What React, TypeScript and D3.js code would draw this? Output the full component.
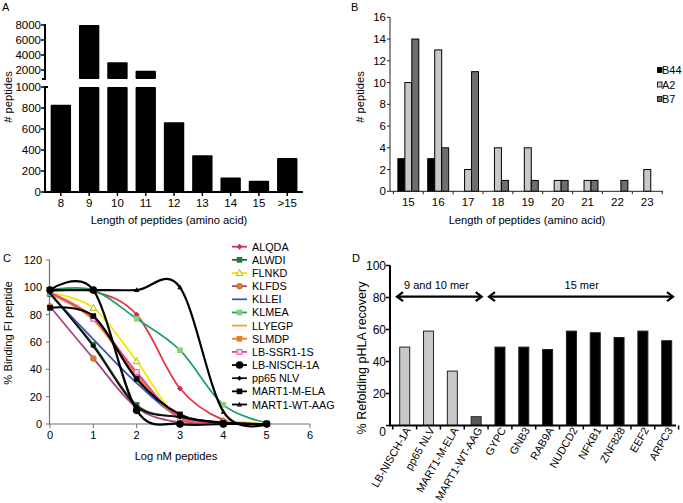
import React from "react";
import * as d3 from "d3";

const FONT = "'Liberation Sans', Arial, Helvetica, sans-serif";

// ---------- Panel A data ----------
const aCats = ["8", "9", "10", "11", "12", "13", "14", "15", ">15"];
const aValues = [830, 8000, 3050, 1900, 665, 350, 137, 108, 325];
const aTopTicks = [2000, 4000, 6000, 8000];
const aBottomTicks = [0, 200, 400, 600, 800, 1000];

// ---------- Panel B data ----------
const bCats = ["15", "16", "17", "18", "19", "20", "21", "22", "23"];
const bSeriesNames = ["B44", "A2", "B7"];
const bB44 = [3, 3, 0, 0, 0, 0, 0, 0, 0];
const bA2 = [10, 13, 2, 4, 4, 1, 1, 0, 2];
const bB7 = [14, 4, 11, 1, 1, 1, 1, 1, 0];
const bTicks = [0, 2, 4, 6, 8, 10, 12, 14, 16];

// ---------- Panel C data ----------
const cX = [0, 1, 2, 3, 4, 5];
const cXTicks = [0, 1, 2, 3, 4, 5, 6];
const cYTicks = [0, 20, 40, 60, 80, 100, 120];
const cALQDA = [97, 97, 80, 26, 3, 0];
const cALWDI = [95, 58, 14, 5, 1, 0];
const cFLNKD = [96, 85, 46, 3, 2, 0];
const cKLFDS = [86, 48, 12, 1, 0, 0];
const cKLLEI = [95, 62, 30, 5, 1, 0];
const cKLMEA = [98, 98, 77, 54, 14, 1];
const cLLYEGP = [95, 76, 35, 4, 1, 0];
const cSLMDP = [96, 78, 36, 5, 1, 0];
const cLBSSR = [96, 77, 38, 4, 1, 0];
const cLBNISCH = [98, 98, 10, 0, 0, 0];
const cPP65 = [96, 57, 13, 5, 1, 0];
const cMARTELA = [85, 79, 33, 7, 1, 0];
const cMARTAAG = [98, 98, 98, 100, 9, 0];

// ---------- Panel D data ----------
const dCats = ["LB-NISCH-1A", "pp65 NLV", "MART1-M-ELA", "MART1-WT-AAG", "GYPC", "GNB3", "RAB9A", "NUDCD2", "NFKB1", "ZNF828", "EEF2", "ARPC3"];
const dValues = [49, 59, 34, 5.5, 49, 49, 47.5, 59, 58, 55, 59, 53];
const dTicks = [0, 20, 40, 60, 80, 100];

type Marker = "diamond" | "square" | "openSquare" | "openTriangle" | "circle" | "bigCircle" | "smallDiamond" | "triangle" | "none";

const cSeries: { name: string; values: number[]; color: string; marker: Marker; markerColor: string }[] = [
  { name: "ALQDA", values: cALQDA, color: "#e8313c", marker: "diamond", markerColor: "#b8306a" },
  { name: "ALWDI", values: cALWDI, color: "#35602c", marker: "square", markerColor: "#1f7a3a" },
  { name: "FLNKD", values: cFLNKD, color: "#f3e600", marker: "openTriangle", markerColor: "#b8b020" },
  { name: "KLFDS", values: cKLFDS, color: "#a9457f", marker: "circle", markerColor: "#e07a30" },
  { name: "KLLEI", values: cKLLEI, color: "#3a55b8", marker: "none", markerColor: "#3a55b8" },
  { name: "KLMEA", values: cKLMEA, color: "#1fa070", marker: "square", markerColor: "#86d072" },
  { name: "LLYEGP", values: cLLYEGP, color: "#f5a030", marker: "none", markerColor: "#f5a030" },
  { name: "SLMDP", values: cSLMDP, color: "#f07a20", marker: "square", markerColor: "#f07a20" },
  { name: "LB-SSR1-1S", values: cLBSSR, color: "#e8409a", marker: "openSquare", markerColor: "#e060a8" },
  { name: "pp65 NLV", values: cPP65, color: "#111111", marker: "smallDiamond", markerColor: "#000" },
  { name: "MART1-M-ELA", values: cMARTELA, color: "#000000", marker: "square", markerColor: "#000" },
  { name: "LB-NISCH-1A", values: cLBNISCH, color: "#000000", marker: "bigCircle", markerColor: "#000" },
  { name: "MART1-WT-AAG", values: cMARTAAG, color: "#000000", marker: "triangle", markerColor: "#000" },
];
const cLegendOrder = ["ALQDA", "ALWDI", "FLNKD", "KLFDS", "KLLEI", "KLMEA", "LLYEGP", "SLMDP", "LB-SSR1-1S", "LB-NISCH-1A", "pp65 NLV", "MART1-M-ELA", "MART1-WT-AAG"];

function MarkerShape({ type, x, y, color }: { type: Marker; x: number; y: number; color: string }) {
  switch (type) {
    case "diamond":
      return <polygon points={`${x},${y - 3} ${x + 3},${y} ${x},${y + 3} ${x - 3},${y}`} fill={color} />;
    case "smallDiamond":
      return <polygon points={`${x},${y - 2.5} ${x + 2.5},${y} ${x},${y + 2.5} ${x - 2.5},${y}`} fill={color} />;
    case "square":
      return <rect x={x - 2.8} y={y - 2.8} width={5.6} height={5.6} fill={color} />;
    case "openSquare":
      return <rect x={x - 2.5} y={y - 2.5} width={5} height={5} fill="#f4d0e4" stroke={color} strokeWidth={1} />;
    case "openTriangle":
      return <polygon points={`${x},${y - 3.5} ${x + 3.2},${y + 2.5} ${x - 3.2},${y + 2.5}`} fill="#ffffe0" stroke={color} strokeWidth={1} />;
    case "circle":
      return <circle cx={x} cy={y} r={3} fill={color} stroke="#b05a20" strokeWidth={0.5} />;
    case "bigCircle":
      return <circle cx={x} cy={y} r={3.8} fill={color} />;
    case "triangle":
      return <polygon points={`${x},${y - 2.8} ${x + 2.6},${y + 2} ${x - 2.6},${y + 2}`} fill={color} />;
    default:
      return null;
  }
}

function PanelA() {
  const xA = d3.scaleBand<string>().domain(aCats).range([46.7, 301.4]).paddingInner(0.28).paddingOuter(0.14);
  const yTop = d3.scaleLinear().domain([800, 8000]).range([79, 25]);
  const yBot = d3.scaleLinear().domain([0, 1000]).range([192, 87]);
  const axisX = 45;
  return (
    <g fontFamily={FONT}>
      <text x={2} y={11} fontSize={11}>A</text>
      {aCats.map((c, i) => {
        const v = aValues[i];
        const x = xA(c)!;
        const w = xA.bandwidth();
        const bv = Math.min(v, 1000);
        return (
          <g key={c}>
            <rect x={x} y={yBot(bv)} width={w} height={yBot(0) - yBot(bv)} fill="#000" rx={1} />
            {v > 1000 && <rect x={x} y={yTop(v)} width={w} height={yTop(800) - yTop(v)} fill="#000" rx={1} />}
          </g>
        );
      })}
      <line x1={axisX} x2={axisX} y1={yTop(8000) - 1} y2={79} stroke="#000" strokeWidth={2} />
      <line x1={axisX - 3} x2={axisX + 1} y1={79} y2={79} stroke="#000" strokeWidth={2} />
      {aTopTicks.map((t) => (
        <g key={t}>
          <line x1={axisX - 4} x2={axisX} y1={yTop(t)} y2={yTop(t)} stroke="#000" strokeWidth={1.5} />
          <text x={axisX - 4} y={yTop(t)} fontSize={11.5} textAnchor="end" dominantBaseline="central">{t}</text>
        </g>
      ))}
      <line x1={axisX} x2={axisX} y1={yBot(1000) - 1} y2={yBot(0)} stroke="#000" strokeWidth={2} />
      <line x1={axisX - 1} x2={axisX + 3} y1={yBot(1000)} y2={yBot(1000)} stroke="#000" strokeWidth={2} />
      {aBottomTicks.map((t) => (
        <g key={t}>
          <line x1={axisX - 4} x2={axisX} y1={yBot(t)} y2={yBot(t)} stroke="#000" strokeWidth={1.5} />
          <text x={axisX - 4} y={yBot(t)} fontSize={11.5} textAnchor="end" dominantBaseline="central">{t}</text>
        </g>
      ))}
      <line x1={axisX - 1} x2={303} y1={yBot(0)} y2={yBot(0)} stroke="#000" strokeWidth={2} />
      {aCats.map((c) => {
        const cx = xA(c)! + xA.bandwidth() / 2;
        return (
          <g key={c}>
            <line x1={cx} x2={cx} y1={yBot(0)} y2={yBot(0) + 4} stroke="#000" strokeWidth={1.5} />
            <text x={cx} y={203} fontSize={11.5} textAnchor="middle" dominantBaseline="central">{c}</text>
          </g>
        );
      })}
      <text x={169} y={220} fontSize={11.2} textAnchor="middle" dominantBaseline="central">Length of peptides (amino acid)</text>
      <text transform="translate(8,97) rotate(-90)" fontSize={11.2} textAnchor="middle" dominantBaseline="central"># peptides</text>
    </g>
  );
}

function PanelB() {
  const xB = d3.scaleBand<string>().domain(bCats).range([393.4, 662.2]).paddingInner(0.3).paddingOuter(0.15);
  const xSub = d3.scaleBand<string>().domain(bSeriesNames).range([0, xB.bandwidth()]);
  const yB = d3.scaleLinear().domain([0, 16]).range([191.3, 17.3]);
  const series = [bB44, bA2, bB7];
  const fills = ["#000000", "#c8c8c8", "#6e6e6e"];
  const step = xB.step();
  const r0 = xB.range()[0];
  return (
    <g fontFamily={FONT}>
      <text x={351} y={11} fontSize={11}>B</text>
      {bCats.map((c, i) =>
        series.map((s, j) =>
          s[i] > 0 ? (
            <rect key={c + j} x={xB(c)! + xSub(bSeriesNames[j])!} y={yB(s[i])} width={xSub.bandwidth()} height={yB(0) - yB(s[i])} fill={fills[j]} stroke="#000" strokeWidth={1} />
          ) : null
        )
      )}
      <line x1={390} x2={390} y1={yB(16)} y2={yB(0)} stroke="#222" strokeWidth={1} />
      {bTicks.map((t) => (
        <g key={t}>
          <line x1={387} x2={390} y1={yB(t)} y2={yB(t)} stroke="#222" strokeWidth={1} />
          <text x={386} y={yB(t)} fontSize={11.5} textAnchor="end" dominantBaseline="central">{t}</text>
        </g>
      ))}
      <line x1={390} x2={663} y1={yB(0)} y2={yB(0)} stroke="#222" strokeWidth={1} />
      {d3.range(bCats.length + 1).map((i) => (
        <line key={i} x1={r0 + i * step} x2={r0 + i * step} y1={yB(0)} y2={yB(0) + 3} stroke="#222" strokeWidth={1} />
      ))}
      {bCats.map((c) => (
        <text key={c} x={xB(c)! + xB.bandwidth() / 2} y={202} fontSize={11.5} textAnchor="middle" dominantBaseline="central">{c}</text>
      ))}
      <text x={527} y={220} fontSize={11.2} textAnchor="middle" dominantBaseline="central">Length of peptides (amino acid)</text>
      <text transform="translate(360,97) rotate(-90)" fontSize={11.2} textAnchor="middle" dominantBaseline="central"># peptides</text>
      {bSeriesNames.map((n, j) => (
        <g key={n}>
          <rect x={657.5} y={70 + j * 14.5 - 2.5} width={4.5} height={5} fill={fills[j]} stroke="#000" strokeWidth={0.8} />
          <text x={662} y={70 + j * 14.5} fontSize={11} dominantBaseline="central">{n}</text>
        </g>
      ))}
    </g>
  );
}

function PanelC() {
  const xC = d3.scaleLinear().domain([0, 6]).range([50, 310]);
  const yC = d3.scaleLinear().domain([0, 120]).range([424, 260]);
  const line = d3
    .line<number>()
    .x((_, i) => xC(cX[i]))
    .y((d) => yC(d))
    .curve(d3.curveCardinal.tension(0));
  const axisColor = "#707070";
  return (
    <g fontFamily={FONT}>
      <text x={3} y={262} fontSize={11}>C</text>
      <line x1={xC(0) - 0.5} x2={xC(0) - 0.5} y1={yC(120)} y2={yC(0)} stroke={axisColor} strokeWidth={1.2} />
      {cYTicks.map((t) => (
        <g key={t}>
          <line x1={xC(0) - 4} x2={xC(0)} y1={yC(t)} y2={yC(t)} stroke={axisColor} strokeWidth={1} />
          <text x={42} y={yC(t)} fontSize={11} textAnchor="end" dominantBaseline="central">{t}</text>
        </g>
      ))}
      <line x1={xC(0) - 1} x2={xC(6)} y1={yC(0)} y2={yC(0)} stroke={axisColor} strokeWidth={1.2} />
      {cXTicks.map((t) => (
        <g key={t}>
          <line x1={xC(t)} x2={xC(t)} y1={yC(0)} y2={yC(0) + 4} stroke={axisColor} strokeWidth={1} />
          <text x={xC(t)} y={435} fontSize={11} textAnchor="middle" dominantBaseline="central">{t}</text>
        </g>
      ))}
      <text x={176} y={456} fontSize={11.2} textAnchor="middle" dominantBaseline="central">Log nM peptides</text>
      <text transform="translate(8,333) rotate(-90)" fontSize={11.2} textAnchor="middle" dominantBaseline="central">% Binding FI peptide</text>
      {cSeries.map((s) => (
        <g key={s.name}>
          <path d={line(s.values)!} fill="none" stroke={s.color} strokeWidth={s.color === "#000000" ? 2.2 : 1.8} />
          {s.values.map((v, i) => (
            <MarkerShape key={i} type={s.marker} x={xC(cX[i])} y={yC(v)} color={s.markerColor} />
          ))}
        </g>
      ))}
      {cLegendOrder.map((name, i) => {
        const s = cSeries.find((q) => q.name === name)!;
        const y = 246.7 + i * 13.15;
        return (
          <g key={name}>
            <line x1={232} x2={247} y1={y} y2={y} stroke={s.color} strokeWidth={1.8} />
            <MarkerShape type={s.marker} x={239.5} y={y} color={s.markerColor} />
            <text x={252} y={y} fontSize={10.8} dominantBaseline="central">{name}</text>
          </g>
        );
      })}
    </g>
  );
}

function PanelD() {
  const xD = d3.scaleBand<string>().domain(dCats).range([392.8, 678.6]).paddingInner(0.58).paddingOuter(0.29);
  const yD = d3.scaleLinear().domain([0, 100]).range([425.5, 265.5]);
  const fillFor = (i: number) => (i < 3 ? "#c8c8c8" : i === 3 ? "#5a5a5a" : "#000000");
  const step = xD.step();
  const r0 = xD.range()[0];
  const arrowY = 296.7;
  const chev = (x: number, dir: number) => `M${x + dir * 6},${arrowY - 4.5} L${x},${arrowY} L${x + dir * 6},${arrowY + 4.5}`;
  return (
    <g fontFamily={FONT}>
      <text x={352} y={262} fontSize={11}>D</text>
      {dCats.map((c, i) => (
        <rect key={c} x={xD(c)!} y={yD(dValues[i])} width={xD.bandwidth()} height={yD(0) - yD(dValues[i])} fill={fillFor(i)} stroke="#222" strokeWidth={1} />
      ))}
      <line x1={390} x2={390} y1={yD(100)} y2={yD(0)} stroke="#000" strokeWidth={2} />
      {dTicks.map((t) => (
        <g key={t}>
          <line x1={386} x2={390} y1={yD(t)} y2={yD(t)} stroke="#000" strokeWidth={1.5} />
          <text x={386} y={yD(t) + (t === 0 ? 6 : 0)} fontSize={12} textAnchor="end" dominantBaseline="central">{t}</text>
        </g>
      ))}
      <line x1={389} x2={676} y1={yD(0)} y2={yD(0)} stroke="#000" strokeWidth={2} />
      {d3.range(dCats.length + 1).map((i) => (
        <line key={i} x1={r0 + i * step} x2={r0 + i * step} y1={yD(0)} y2={yD(0) + 4} stroke="#000" strokeWidth={1.5} />
      ))}
      {dCats.map((c) => {
        const cx = xD(c)! + xD.bandwidth() / 2 + 3;
        return (
          <text key={c} transform={`translate(${cx},428) rotate(-60)`} fontSize={10.8} textAnchor="end" dominantBaseline="central">{c}</text>
        );
      })}
      <text transform="translate(362,358) rotate(-90)" fontSize={12.5} textAnchor="middle" dominantBaseline="central">% Refolding pHLA recovery</text>
      <line x1={397} x2={481.7} y1={arrowY} y2={arrowY} stroke="#000" strokeWidth={2.2} />
      <path d={chev(397, 1)} fill="none" stroke="#000" strokeWidth={2.2} />
      <path d={chev(481.7, -1)} fill="none" stroke="#000" strokeWidth={2.2} />
      <text x={436.5} y={285} fontSize={11} textAnchor="middle" dominantBaseline="central">9 and 10 mer</text>
      <line x1={489} x2={673} y1={arrowY} y2={arrowY} stroke="#000" strokeWidth={2.2} />
      <path d={chev(489, 1)} fill="none" stroke="#000" strokeWidth={2.2} />
      <path d={chev(673, -1)} fill="none" stroke="#000" strokeWidth={2.2} />
      <text x={581.7} y={285} fontSize={11} textAnchor="middle" dominantBaseline="central">15 mer</text>
    </g>
  );
}

export default function App() {
  return (
    <svg width={683} height={503} style={{ position: "absolute", left: 0, top: 0, background: "#fff" }}>
      <rect x={0} y={0} width={683} height={503} fill="#fff" />
      <PanelA />
      <PanelB />
      <PanelC />
      <PanelD />
    </svg>
  );
}
